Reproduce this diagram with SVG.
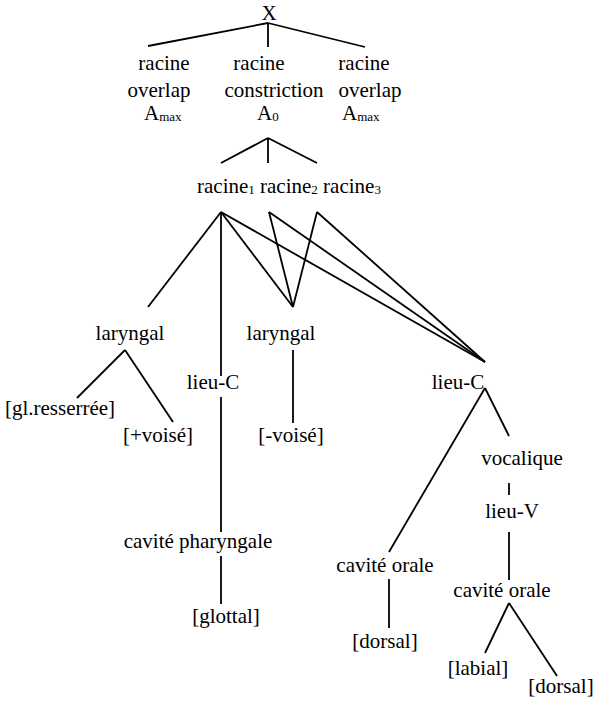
<svg xmlns="http://www.w3.org/2000/svg" width="593" height="707" viewBox="0 0 593 707">
<style>
text{font-family:"Liberation Serif","Times New Roman",serif;font-size:21px;fill:#000}
.m{text-anchor:middle}
.sub{font-size:13px}
#edges line{stroke:#000;stroke-width:1.8;stroke-linecap:butt}
</style>
<rect width="593" height="707" fill="#fff"/>
<g id="edges">
<line x1="268" y1="23" x2="148" y2="46"/>
<line x1="268" y1="23" x2="268" y2="47"/>
<line x1="268" y1="23" x2="365" y2="47"/>
<line x1="268" y1="138" x2="221" y2="163"/>
<line x1="268" y1="138" x2="268" y2="163"/>
<line x1="268" y1="138" x2="317" y2="163"/>
<line x1="221" y1="212" x2="148" y2="307"/>
<line x1="221" y1="212" x2="221" y2="376"/>
<line x1="221" y1="212" x2="293" y2="307"/>
<line x1="221" y1="212" x2="485" y2="362"/>
<line x1="269" y1="212" x2="293" y2="307"/>
<line x1="269" y1="212" x2="485" y2="362"/>
<line x1="317" y1="212" x2="293" y2="307"/>
<line x1="317" y1="212" x2="485" y2="362"/>
<line x1="125" y1="350" x2="77" y2="398"/>
<line x1="125" y1="350" x2="173" y2="422"/>
<line x1="293" y1="350" x2="293" y2="423"/>
<line x1="221" y1="397" x2="221" y2="532"/>
<line x1="221" y1="556" x2="221" y2="604"/>
<line x1="485" y1="388" x2="389" y2="552"/>
<line x1="485" y1="388" x2="509" y2="436"/>
<line x1="509" y1="483" x2="509" y2="495"/>
<line x1="509" y1="532" x2="509" y2="580"/>
<line x1="389" y1="579" x2="389" y2="628"/>
<line x1="509" y1="603" x2="485" y2="653"/>
<line x1="509" y1="603" x2="557" y2="676"/>
</g>
<g id="n-X"><text class="m" x="269" y="20">X</text></g>
<g id="n-overlap1">
<text class="m" x="164" y="70">racine</text>
<text class="m" x="159" y="97">overlap</text>
<text x="144" y="120">A<tspan class="sub" dy="1">max</tspan></text>
</g>
<g id="n-constriction">
<text class="m" x="259" y="70">racine</text>
<text class="m" x="274" y="97">constriction</text>
<text x="257" y="120">A<tspan class="sub" dy="1">0</tspan></text>
</g>
<g id="n-overlap2">
<text class="m" x="364" y="70">racine</text>
<text class="m" x="370" y="97">overlap</text>
<text x="342" y="120">A<tspan class="sub" dy="1">max</tspan></text>
</g>
<g id="n-racines"><text x="197" y="193">racine<tspan class="sub" dy="1">1</tspan><tspan dy="-1"> racine</tspan><tspan class="sub" dy="1">2</tspan><tspan dy="-1"> racine</tspan><tspan class="sub" dy="1">3</tspan></text></g>
<g id="n-laryngal1"><text class="m" x="130" y="340">laryngal</text></g>
<g id="n-glres"><text class="m" x="60" y="415">[gl.resserrée]</text></g>
<g id="n-pvoise"><text class="m" x="158" y="442">[+voisé]</text></g>
<g id="n-lieuC1"><text class="m" x="213" y="389">lieu-C</text></g>
<g id="n-laryngal2"><text class="m" x="281" y="340">laryngal</text></g>
<g id="n-mvoise"><text class="m" x="291" y="442">[-voisé]</text></g>
<g id="n-lieuC2"><text class="m" x="458" y="389">lieu-C</text></g>
<g id="n-vocalique"><text class="m" x="522" y="465">vocalique</text></g>
<g id="n-lieuV"><text class="m" x="512" y="518">lieu-V</text></g>
<g id="n-pharyngale"><text class="m" x="198" y="548">cavité pharyngale</text></g>
<g id="n-glottal"><text class="m" x="226" y="623">[glottal]</text></g>
<g id="n-orale1"><text class="m" x="385" y="572">cavité orale</text></g>
<g id="n-dorsal1"><text class="m" x="385" y="648">[dorsal]</text></g>
<g id="n-orale2"><text class="m" x="502" y="597">cavité orale</text></g>
<g id="n-labial"><text class="m" x="478" y="675">[labial]</text></g>
<g id="n-dorsal2"><text class="m" x="561" y="693">[dorsal]</text></g>
</svg>
